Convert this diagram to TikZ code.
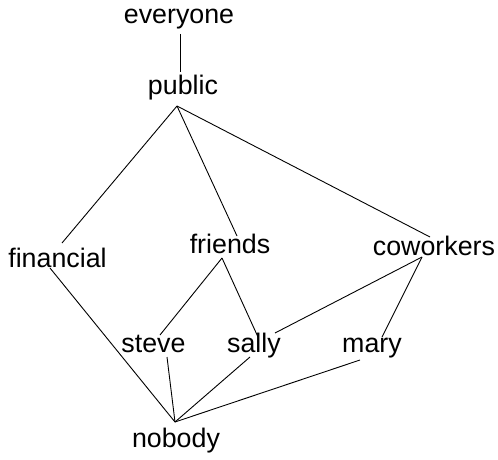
\documentclass[tikz,border=0pt]{standalone}
\usepackage{fontspec}
\setmainfont{Liberation Sans}
\begin{document}
\begin{tikzpicture}[x=1pt,y=-1pt,
  lbl/.style={anchor=base,inner sep=0pt,font=\fontsize{26.8}{30}\selectfont},
  edge/.style={line width=0.9pt,black}]
\useasboundingbox (0,0) rectangle (498,460);
\node[lbl] (everyone) at (179,24) {everyone};
\node[lbl] (public) at (183,95) {public};
\node[lbl] (financial) at (57.5,267) {financial};
\node[lbl] (friends) at (230,253) {friends};
\node[lbl] (coworkers) at (434,255) {coworkers};
\node[lbl] (steve) at (153.5,352) {steve};
\node[lbl] (sally) at (254,352) {sally};
\node[lbl] (mary) at (372,352) {mary};
\node[lbl] (nobody) at (176,447) {nobody};
% edge end points
\coordinate (everyone-b) at (180,34);
\coordinate (public-t) at (180,72);
\coordinate (public-b) at (177,106);
\coordinate (financial-t) at (62,243);
\coordinate (financial-b) at (50,268);
\coordinate (friends-t) at (237,236);
\coordinate (friends-b) at (222,258);
\coordinate (coworkers-t) at (430,237);
\coordinate (coworkers-b) at (422,257);
\coordinate (steve-t) at (160,335);
\coordinate (steve-b) at (167,357);
\coordinate (sally-t1) at (258,337);
\coordinate (sally-t2) at (275,333);
\coordinate (sally-b) at (250,357);
\coordinate (mary-t) at (382,337);
\coordinate (mary-b) at (360,360);
\coordinate (nobody-t) at (175,422);
\draw[edge] (everyone-b) -- (public-t);
\draw[edge] (public-b) -- (financial-t);
\draw[edge] (public-b) -- (friends-t);
\draw[edge] (public-b) -- (coworkers-t);
\draw[edge] (financial-b) -- (nobody-t);
\draw[edge] (friends-b) -- (steve-t);
\draw[edge] (friends-b) -- (sally-t1);
\draw[edge] (coworkers-b) -- (sally-t2);
\draw[edge] (coworkers-b) -- (mary-t);
\draw[edge] (steve-b) -- (nobody-t);
\draw[edge] (sally-b) -- (nobody-t);
\draw[edge] (mary-b) -- (nobody-t);
\end{tikzpicture}
\end{document}
